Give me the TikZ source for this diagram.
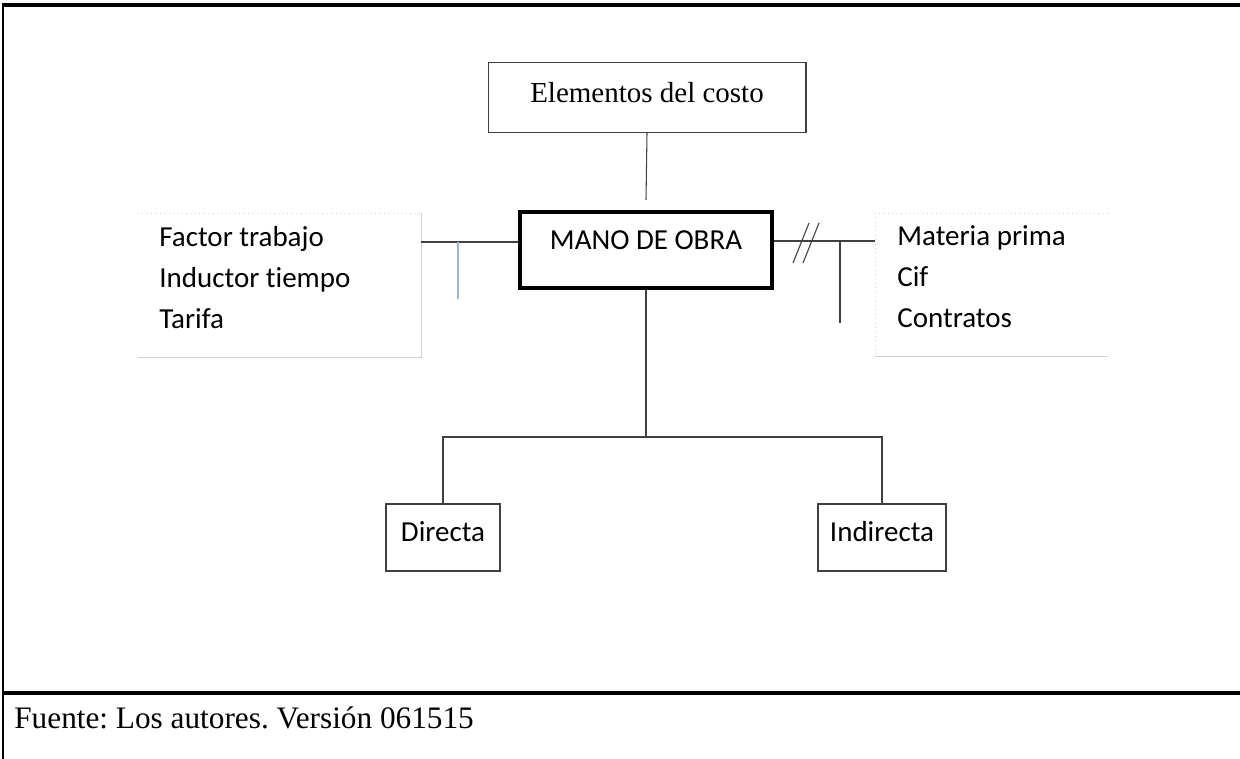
\documentclass[tikz,border=0pt]{standalone}
\usepackage{fontspec}
\setmainfont{Carlito}[Ligatures=NoCommon]
\newfontfamily\serifa{Liberation Serif}
\usetikzlibrary{positioning}
\definecolor{azulclaro}{rgb}{0.62,0.71,0.84}
\definecolor{linea}{gray}{0.25}
\frenchspacing

\begin{document}
\begin{tikzpicture}[x=0.02cm, y=-0.02cm,
    caja/.style={draw=linea, line width=0.6pt, inner sep=0pt,
      font=\fontsize{16.5}{20}\selectfont, text height=0.4cm, text depth=0.25cm},
    item/.style={inner sep=0pt, anchor=mid west, font=\fontsize{16.5}{20}\selectfont},
    borde/.style={draw=gray!35, line width=0.5pt},
    conector/.style={draw=linea, line width=0.6pt}]
    \useasboundingbox (0,0) rectangle (1240,759);

    % marco de la figura
    \draw[line width=0.9pt] (3,759) -- (3,5);
    \draw[line width=1.8pt] (2.5,5) -- (1240,5);
    \draw[line width=1.8pt] (2.5,693) -- (1240,693);

    % cajas
    \node[caja, minimum width=6.36cm, minimum height=1.4cm, font=\serifa\fontsize{16.5}{20}\selectfont,
      text depth=0.2cm] (costo) at (647,97.5) {Elementos del costo};
    \node[caja, draw=black, line width=2.2pt, minimum width=5.04cm, minimum height=1.52cm,
      text height=0.35cm, text depth=0.38cm] (mano) at (646,250) {MANO DE OBRA};
    \node[caja, minimum width=2.28cm, minimum height=1.34cm] (directa) at (443,537.5) {Directa};
    \node[caja, minimum width=2.56cm, minimum height=1.34cm] (indirecta) at (882,537.5) {Indirecta};

    % listas laterales
    \draw[borde, dotted] (138,213) -- (421,213);
    \draw[borde] (421,213) -- (421,357) -- (138,357);
    \draw[borde, dotted] (1108,213) -- (875,213) -- (875,356);
    \draw[borde] (875,356) -- (1108,356);
    \foreach \t [count=\i] in {Factor trabajo, Inductor tiempo, Tarifa}
        \node[item] (fac\i) at (159,201+41*\i) {\t};
    \foreach \t [count=\i] in {Materia prima, Cif, Contratos}
        \node[item] (mat\i) at (897,200+41*\i) {\t};

    % conectores
    \coordinate (izq) at (421,242);
    \coordinate (der) at (875,241);
    \coordinate (pieI) at (458,299);
    \coordinate (pieD) at (840,323);
    \coordinate (finC) at (646,200);
    \coordinate (rama) at (646,437);

    \draw[conector] (costo.south) -- (finC);
    \draw[conector] (mano.west |- izq) -- (izq);
    \draw[azulclaro, line width=0.6pt] (pieI |- izq) -- (pieI);
    \draw[conector] (mano.east |- der) -- (der);
    \foreach \dx in {0,10}
        \draw[conector] (793+\dx,263) -- (809+\dx,223);
    \draw[conector] (pieD |- der) -- (pieD);
    \draw[conector] (mano.south) -- (rama);
    \draw[conector] (directa.north) -- (directa.north |- rama) -- (indirecta.north |- rama) -- (indirecta.north);

    % fuente
    \node[inner sep=0pt, anchor=mid west, font=\serifa\fontsize{17.8}{20}\selectfont] (fuente) at (14,724)
        {Fuente: Los autores. Versión 061515};
\end{tikzpicture}
\end{document}
